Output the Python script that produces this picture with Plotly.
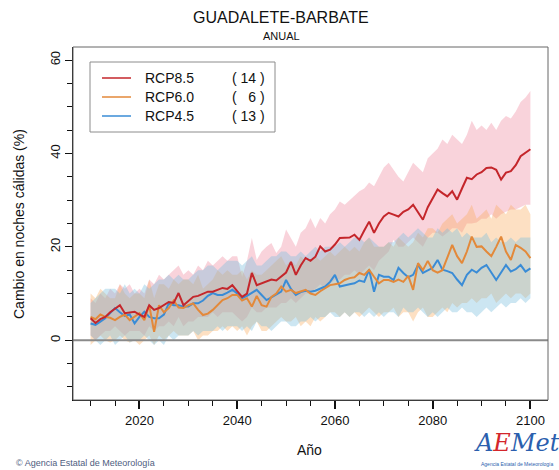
import plotly.graph_objects as go

years = list(range(2010, 2101))

rcp85_mean = [4.7, 3.7, 4.5, 5.0, 6.0, 6.8, 7.5, 5.8, 6.0, 6.1,
              5.5, 5.0, 7.5, 6.5, 6.9, 7.5, 8.2, 8.0, 10.1, 7.5,
              8.5, 9.3, 9.5, 10.0, 10.4, 10.4, 10.8, 11.2, 11.0, 11.8,
              10.5, 9.3, 10.0, 14.4, 11.8, 12.2, 12.5, 13.0, 12.8, 13.6,
              14.5, 16.8, 14.0, 16.0, 17.6, 17.0, 17.9, 20.1, 19.0, 19.4,
              20.5, 21.9, 21.9, 22.0, 22.6, 21.5, 23.5, 25.4, 23.0, 25.0,
              26.5, 27.3, 26.9, 26.5, 27.5, 28.0, 29.0, 27.5, 25.8, 28.5,
              30.5, 32.3, 31.5, 30.8, 31.9, 30.1, 32.5, 34.8, 34.5, 35.5,
              36.0, 36.9, 37.0, 36.5, 34.4, 35.9, 36.2, 37.5, 39.4, 40.2,
              40.9]
rcp85_high = [9, 8, 10, 9, 11, 10, 12, 11, 12, 10,
              11, 10, 13, 12, 14, 13, 14, 15, 16, 14,
              15, 14, 16, 15, 17, 16, 17, 18, 17, 18,
              18, 13.6, 17, 21.9, 17.2, 19, 20, 20.8, 18.7, 20,
              23.7, 22, 20, 23, 24, 26.2, 24, 26.2, 25, 27,
              28, 29.7, 29, 30, 31, 31.9, 32.5, 33.8, 33, 35,
              37, 38, 36.5, 35, 34, 36, 38, 37, 36, 39,
              40, 41, 43, 42, 44, 43, 42, 44, 47, 45,
              46, 45, 46.6, 45, 47, 48, 47.5, 49, 51, 52,
              53.4]
rcp85_low = [1, 0, 1, 2, 2, 3, 2, 1, 2, 2,
             2, 1, 3, 2, 3, 3, 4, 3, 5, 3,
             4, 4, 5, 5, 5, 6, 5, 6, 6, 6,
             5, 4, 5, 7, 6, 6, 7, 7, 7, 8,
             8, 9, 8, 9, 10, 10, 11, 12, 11, 12,
             13, 13, 14, 14, 15, 14, 15, 16, 15, 17,
             18, 19, 21.5, 20, 20, 21, 22, 21, 20, 22,
             23, 23, 22.2, 23, 24, 24, 23, 25, 25, 25.2,
             26, 26, 27, 26, 27, 27.5, 28, 28, 28.5, 29,
             29]

rcp60_mean = [5.0, 4.5, 5.5, 5.0, 4.8, 4.3, 5.0, 5.5, 4.3, 5.0,
              5.8, 4.3, 7.5, 1.8, 7.5, 6.0, 6.9, 8.5, 7.0, 6.9,
              7.5, 7.9, 6.5, 5.4, 5.7, 6.5, 7.5, 8.6, 9.0, 9.7,
              9.7, 8.5, 9.0, 7.2, 9.5, 7.5, 7.2, 9.3, 10.0, 11.5,
              10.4, 10.8, 10.1, 10.5, 10.8, 10.0, 9.7, 10.5, 11.2, 11.8,
              12.0, 12.2, 12.9, 13.3, 13.5, 14.4, 14.0, 15.1, 13.6, 12.2,
              12.9, 12.9, 12.5, 13.0, 12.5, 13.8, 10.8, 16.5, 15.0, 17.0,
              15.0, 14.5, 15.0, 17.5, 20.4, 18.0, 16.5, 19.0, 22.2, 20.0,
              20.1, 19.0, 18.0, 20.0, 22.2, 19.0, 17.2, 20.4, 19.8, 19.0,
              17.6]
rcp60_high = [10, 9, 11, 10, 9, 9, 12, 10, 9, 10,
              10, 9, 13, 9, 12, 12, 11, 13, 12, 13,
              13, 12, 14, 11, 12, 13, 15, 14, 15, 14,
              14, 15, 13, 15, 14, 14, 15, 16, 17, 18,
              16, 17, 16, 18, 17, 17, 18, 17, 18, 19,
              18, 19, 20, 19, 20, 19, 21, 22, 20, 20,
              20, 21, 20, 22, 21, 20, 21, 23, 22, 24,
              24, 23, 25, 26, 27, 25, 26, 27, 29, 26,
              27, 28, 26, 29, 28, 27, 29, 28, 28, 29,
              27]
rcp60_low = [-1, 0, 1, 0, -0.5, 0, 1, 0, -0.5, 0,
             -1, 0, 1, -1, 1, 0, 1, 2, 1, 1,
             1, 2, 0, 1, 1, 2, 2, 3, 2, 3,
             2, 3, 1, 3, 4, 2, 2, 3, 4, 5,
             4, 4, 5, 3, 4, 3, 5, 4, 5, 6,
             6, 5, 6, 5, 6, 5, 6, 7, 6, 5,
             6, 6, 7, 5, 6, 6, 4, 6, 7, 5,
             5, 6, 7, 6, 8, 7, 8, 8, 9, 8,
             9, 9, 10, 8, 9, 10, 9, 10, 10, 9,
             10]

rcp45_mean = [3.6, 3.3, 4.0, 4.7, 5.8, 6.9, 6.0, 5.2, 5.5, 3.6,
              5.0, 6.1, 5.0, 4.7, 4.7, 5.5, 7.9, 7.5, 7.5, 7.2,
              7.2, 7.9, 7.9, 8.5, 9.5, 10.1, 9.7, 9.7, 10.2, 10.8,
              10.0, 9.0, 9.5, 10.2, 10.8, 9.7, 8.6, 9.2, 9.8, 10.4,
              12.9, 11.0, 9.7, 10.3, 10.6, 10.4, 10.6, 11.0, 11.5, 12.5,
              14.0, 11.5, 11.8, 12.0, 12.2, 12.8, 12.5, 15.1, 10.4, 14.0,
              13.6, 13.6, 12.9, 15.5, 14.4, 13.5, 14.0, 16.1, 14.4, 15.0,
              15.5, 17.2, 15.1, 14.8, 14.4, 13.0, 11.8, 14.0, 15.1, 14.5,
              15.5, 16.1, 14.5, 12.9, 14.5, 16.1, 14.7, 15.2, 16.1, 14.7,
              15.4]
rcp45_high = [8, 9, 10, 11, 11, 11, 10, 12, 10, 11,
              10, 12, 11, 12, 13, 13, 14, 13, 14, 13,
              13, 14, 15, 15, 16, 16, 15, 16, 17, 17,
              17, 16, 17, 18, 16, 16, 17, 18, 18, 19,
              19, 18, 18, 19, 18, 19, 20, 19, 20, 20,
              20, 21, 20, 21, 22, 22, 21, 22, 21, 20,
              20, 21, 21, 22, 23, 22, 23, 24, 23, 22,
              22, 24, 23, 24, 23, 24, 22, 23, 22, 22,
              22, 23, 21, 22, 21, 21, 22, 21, 22, 22,
              22]
rcp45_low = [1, 0, -1, 0, 1, -1, 0, 1, -0.5, 0,
             0, 1, 0, -1, 0, -1, 1, 0, 1, 1,
             1, 2, 1, 2, 2, 2, 3, 2, 3, 3,
             3, 2, 3, 2, 4, 3, 3, 2, 3, 4,
             4, 3, 3, 4, 4, 5, 4, 5, 5, 6,
             5, 5, 6, 5, 6, 6, 5, 6, 5, 6,
             5, 6, 6, 5, 7, 6, 6, 7, 6, 5,
             6, 5, 6, 7, 6, 6, 7, 6, 6, 5,
             6, 7, 6, 7, 8, 7, 8, 8, 9, 8,
             9]

series_names = ["RCP8.5", "RCP6.0", "RCP4.5"]
series_counts = ["( 14 )", "(   6 )", "( 13 )"]
x_major = [2020, 2040, 2060, 2080, 2100]
x_minor = list(range(2010, 2101, 5))
y_major = [0, 20, 40, 60]
y_minor = list(range(-10, 61, 5))

line_colors = ["#C4262B", "#E3893A", "#3A8CD6"]
fill_colors = ["rgba(240,150,170,0.42)", "rgba(250,170,90,0.36)", "rgba(120,190,220,0.38)"]

FONT = "Liberation Sans, Arial, sans-serif"

fig = go.Figure()

bands = [(rcp85_low, rcp85_high), (rcp60_low, rcp60_high), (rcp45_low, rcp45_high)]
for (lo, hi), fc in zip(bands, fill_colors):
    fig.add_trace(go.Scatter(x=years, y=lo, mode="lines", line=dict(width=0),
                             showlegend=False, hoverinfo="skip"))
    fig.add_trace(go.Scatter(x=years, y=hi, mode="lines", line=dict(width=0),
                             fill="tonexty", fillcolor=fc, showlegend=False, hoverinfo="skip"))

# zero line
fig.add_trace(go.Scatter(x=[2006.4, 2103.6], y=[0, 0], mode="lines",
                         line=dict(color="#8a8a8a", width=2), showlegend=False, hoverinfo="skip"))

means = [rcp45_mean, rcp60_mean, rcp85_mean]
cols = [line_colors[2], line_colors[1], line_colors[0]]
names = [series_names[2], series_names[1], series_names[0]]
for m, c, n in zip(means, cols, names):
    fig.add_trace(go.Scatter(x=years, y=m, mode="lines", name=n,
                             line=dict(color=c, width=2), showlegend=False))

# pixel -> paper helpers (plot area: x 73..548, y 47..400)
L, R, T, B = 73, 548, 47, 400
def px(x):
    return (x - L) / (R - L)
def py(y):
    return (B - y) / (B - T)

shapes = []
annotations = []

# plot box
shapes.append(dict(type="rect", xref="paper", yref="paper", x0=0, x1=1, y0=0, y1=1,
                   line=dict(color="#666666", width=1)))

# legend box
shapes.append(dict(type="rect", xref="paper", yref="paper", x0=px(90), x1=px(275),
                   y0=py(132), y1=py(62), line=dict(color="#8c8c8c", width=1),
                   fillcolor="white"))
rows = [78, 97, 116]
for yy, c, n, cnt in zip(rows, line_colors, series_names, series_counts):
    shapes.append(dict(type="line", xref="paper", yref="paper", x0=px(102), x1=px(131),
                       y0=py(yy), y1=py(yy), line=dict(color=c, width=1.5)))
    annotations.append(dict(xref="paper", yref="paper", x=px(143), y=py(yy), text=n,
                            showarrow=False, xanchor="left", yanchor="middle",
                            font=dict(family=FONT, size=14, color="#111")))
    annotations.append(dict(xref="paper", yref="paper", x=px(267), y=py(yy), text=cnt,
                            showarrow=False, xanchor="right", yanchor="middle",
                            font=dict(family=FONT, size=14, color="#111")))

# titles
annotations.append(dict(xref="paper", yref="paper", x=px(281), y=py(18), text="GUADALETE-BARBATE",
                        showarrow=False, xanchor="center", yanchor="middle",
                        font=dict(family=FONT, size=16, color="#111")))
annotations.append(dict(xref="paper", yref="paper", x=px(281), y=py(36), text="ANUAL",
                        showarrow=False, xanchor="center", yanchor="middle",
                        font=dict(family=FONT, size=11, color="#111")))
annotations.append(dict(xref="paper", yref="paper", x=px(19), y=py(224),
                        text="Cambio en noches cálidas (%)", textangle=-90,
                        showarrow=False, xanchor="center", yanchor="middle",
                        font=dict(family=FONT, size=14, color="#111")))
annotations.append(dict(xref="paper", yref="paper", x=px(309), y=py(450), text="Año",
                        showarrow=False, xanchor="center", yanchor="middle",
                        font=dict(family=FONT, size=14, color="#111")))
annotations.append(dict(xref="paper", yref="paper", x=px(14), y=py(463),
                        text="© Agencia Estatal de Meteorología",
                        showarrow=False, xanchor="left", yanchor="middle",
                        font=dict(family=FONT, size=9, color="#4f5d80")))
annotations.append(dict(xref="paper", yref="paper", x=px(517), y=py(443),
                        text="<i><span style='color:#2b5fae'>A</span><span style='color:#d4262b'>E</span><span style='color:#2b5fae'>Met</span></i>",
                        showarrow=False, xanchor="center", yanchor="middle",
                        font=dict(family="DejaVu Serif, serif", size=24)))
annotations.append(dict(xref="paper", yref="paper", x=px(517), y=py(464),
                        text="Agencia Estatal de Meteorología",
                        showarrow=False, xanchor="center", yanchor="middle",
                        font=dict(family=FONT, size=5, color="#2b5fae")))

fig.update_layout(
    width=559, height=470,
    margin=dict(l=L, r=559 - R, t=T, b=470 - B),
    paper_bgcolor="white", plot_bgcolor="white",
    showlegend=False,
    shapes=shapes, annotations=annotations,
    font=dict(family=FONT, size=13, color="#111"),
    xaxis=dict(range=[2006.4, 2103.6], showgrid=False, zeroline=False,
               showline=True, linecolor="#111", linewidth=1,
               tickvals=x_major, ticks="outside", ticklen=8, tickwidth=1.5, tickcolor="#111",
               minor=dict(tickvals=x_minor, ticks="outside", ticklen=5, tickcolor="#111", tickwidth=1),
               tickfont=dict(family=FONT, size=13, color="#111")),
    yaxis=dict(range=[-12.8, 62.8], showgrid=False, zeroline=False,
               showline=True, linecolor="#111", linewidth=1,
               tickvals=y_major, ticks="outside", ticklen=7, tickwidth=1.2, tickcolor="#111",
               minor=dict(tickvals=y_minor, ticks="outside", ticklen=5, tickcolor="#111", tickwidth=1),
               tickangle=-90, tickfont=dict(family=FONT, size=13, color="#111")),
)

fig.write_html("out.html", config={"displayModeBar": False},
               post_script="document.body.style.margin='0';document.body.style.padding='0';")
